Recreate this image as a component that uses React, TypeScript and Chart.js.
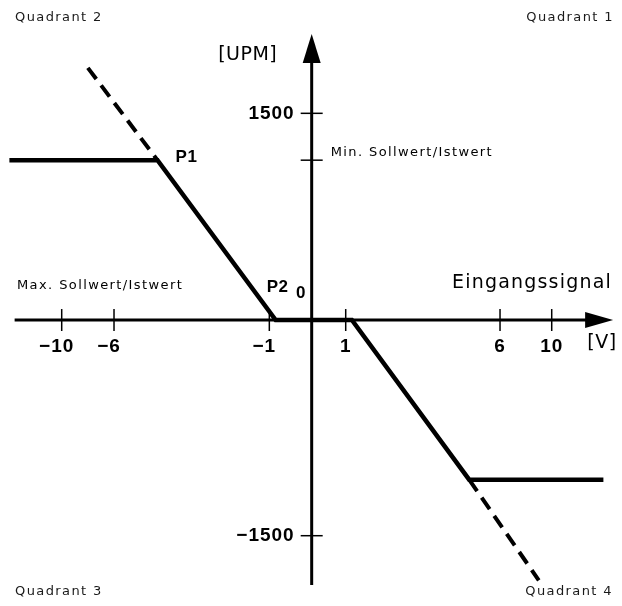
import React, { useEffect, useRef } from 'react';
import { Chart, LinearScale, registerables } from 'chart.js';

// ---- data ----
const solidX = [-14, -4.6, -0.85, 1.2, 5, 14];
const solidY = [1160, 1160, 0, 0, -1110, -1110];
const dashUpperX = [-8, -4.6];
const dashUpperY = [1830, 1160];
const dashLowerX = [5, 9];
const dashLowerY = [-1110, -1810];

const xTicks = [-10, -6, -1, 1, 6, 10];
const xTickLabels = ['−10', '−6', '−1', '1', '6', '10'];
const yTicks = [1500, 1160, -1500];
const yTickLabels = ['1500', '', '−1500'];

const xAxisRange = [-13.6, 14.75];
const yAxisRange = [-1843, 2075];

const quadrantLabels = ['Quadrant 1', 'Quadrant 2', 'Quadrant 3', 'Quadrant 4'];
const pointLabels = ['P1', 'P2'];

// ---- schematic (piecewise linear) axis layout: value -> fraction of the scale extent ----
const X_KNOTS: [number, number][] = [
  [-10, 0.0992], [-6, 0.1833], [-1, 0.433], [0, 0.5011], [1, 0.5558], [6, 0.8039], [10, 0.887],
];
const Y_KNOTS: [number, number][] = [
  [-1500, 0.884], [0, 0.5281], [1500, 0.187],
];

function interp(knots: [number, number][], v: number, a: 0 | 1, b: 0 | 1) {
  const n = knots.length;
  const asc = knots[n - 1][a] > knots[0][a];
  let i = 0;
  const before = (p: number, q: number) => (asc ? p <= q : p >= q);
  if (before(v, knots[0][a])) i = 0;
  else if (!before(v, knots[n - 1][a])) i = n - 2;
  else {
    while (i < n - 2 && !before(v, knots[i + 1][a])) i++;
  }
  const p0 = knots[i], p1 = knots[i + 1];
  return p0[b] + ((v - p0[a]) * (p1[b] - p0[b])) / (p1[a] - p0[a]);
}

class SchematicScale extends LinearScale {
  static id = 'schematic';
  getPixelForValue(value: number) {
    const self: any = this;
    const knots = self.isHorizontal() ? X_KNOTS : Y_KNOTS;
    const f = interp(knots, value, 0, 1);
    return self.isHorizontal() ? self.left + f * self.width : self.top + f * self.height;
  }
  getValueForPixel(pixel: number) {
    const self: any = this;
    const knots = self.isHorizontal() ? X_KNOTS : Y_KNOTS;
    const f = self.isHorizontal() ? (pixel - self.left) / self.width : (pixel - self.top) / self.height;
    return interp(knots, f, 1, 0);
  }
}

Chart.register(...registerables, SchematicScale as any);

const FONT = '"DejaVu Sans", Verdana, sans-serif';
const NUM_FONT = '"Liberation Sans", Arial, sans-serif';
const INK = '#000';

function drawText(
  ctx: CanvasRenderingContext2D,
  text: string,
  x: number,
  y: number,
  font: string,
  align: CanvasTextAlign,
  spacing = 0,
  color = INK,
) {
  ctx.save();
  ctx.font = font;
  ctx.fillStyle = color;
  ctx.textAlign = align;
  ctx.textBaseline = 'middle';
  (ctx as any).letterSpacing = `${spacing}px`;
  ctx.fillText(text, x, y);
  ctx.restore();
}

const diagramPlugin = {
  id: 'diagram',
  beforeDatasetsDraw(chart: any) {
    const ctx: CanvasRenderingContext2D = chart.ctx;
    const xs = chart.scales.x;
    const ys = chart.scales.y;
    const x0 = xs.getPixelForValue(0);
    const y0 = ys.getPixelForValue(0);
    ctx.save();
    ctx.strokeStyle = INK;
    ctx.fillStyle = INK;
    ctx.lineCap = 'butt';

    // x axis with arrow
    const xa = xs.getPixelForValue(xAxisRange[0]);
    const xb = xs.getPixelForValue(xAxisRange[1]);
    ctx.lineWidth = 3;
    ctx.beginPath();
    ctx.moveTo(xa, y0);
    ctx.lineTo(xb - 20, y0);
    ctx.stroke();
    ctx.beginPath();
    ctx.moveTo(xb, y0);
    ctx.lineTo(xb - 28, y0 - 8);
    ctx.lineTo(xb - 28, y0 + 8);
    ctx.closePath();
    ctx.fill();

    // y axis with arrow
    const ya = ys.getPixelForValue(yAxisRange[0]);
    const yb = ys.getPixelForValue(yAxisRange[1]);
    ctx.beginPath();
    ctx.moveTo(x0, ya);
    ctx.lineTo(x0, yb + 20);
    ctx.stroke();
    ctx.beginPath();
    ctx.moveTo(x0, yb);
    ctx.lineTo(x0 - 9, yb + 29);
    ctx.lineTo(x0 + 9, yb + 29);
    ctx.closePath();
    ctx.fill();

    // ticks
    ctx.lineWidth = 1.5;
    xTicks.forEach((v) => {
      const px = xs.getPixelForValue(v);
      ctx.beginPath();
      ctx.moveTo(px, y0 - 11);
      ctx.lineTo(px, y0 + 11);
      ctx.stroke();
    });
    yTicks.forEach((v) => {
      const py = ys.getPixelForValue(v);
      ctx.beginPath();
      ctx.moveTo(x0 - 11, py);
      ctx.lineTo(x0 + 11, py);
      ctx.stroke();
    });
    ctx.restore();
  },
  afterDraw(chart: any) {
    const ctx: CanvasRenderingContext2D = chart.ctx;
    const xs = chart.scales.x;
    const ys = chart.scales.y;
    const x0 = xs.getPixelForValue(0);
    const y0 = ys.getPixelForValue(0);
    const W = chart.width;
    const H = chart.height;
    const numFont = `bold 19px ${NUM_FONT}`;
    const small = `13px ${FONT}`;

    // tick labels (negative labels hang their minus sign to the left)
    xTicks.forEach((v, i) => {
      const label = xTickLabels[i];
      const shift = label.startsWith('−') ? -5 : 0;
      drawText(ctx, label, xs.getPixelForValue(v) + shift, y0 + 27, numFont, 'center', 1);
    });
    yTicks.forEach((v, i) => {
      if (yTickLabels[i]) drawText(ctx, yTickLabels[i], x0 - 17, ys.getPixelForValue(v), numFont, 'right', 1);
    });

    // axis titles
    drawText(ctx, '[UPM]', x0 - 64, 55, `19px ${FONT}`, 'center', 0.5);
    drawText(ctx, 'Eingangssignal', W - 10, y0 - 37, `19px ${FONT}`, 'right', 1.2);
    drawText(ctx, '[V]', W - 20, y0 + 23, `19px ${FONT}`, 'center', 0.5);
    drawText(ctx, '0', x0 - 11, y0 - 27, `bold 17px ${NUM_FONT}`, 'center');

    // reference annotations
    drawText(ctx, 'Min. Sollwert/Istwert', x0 + 19, ys.getPixelForValue(yTicks[1]) - 8, small, 'left', 1.4);
    drawText(ctx, 'Max. Sollwert/Istwert', 17, y0 - 34, small, 'left', 1.4);

    // point labels
    drawText(ctx, pointLabels[0], xs.getPixelForValue(solidX[1]) + 29, ys.getPixelForValue(solidY[1]) - 3, `bold 17px ${NUM_FONT}`, 'center', 0.5);
    drawText(ctx, pointLabels[1], xs.getPixelForValue(solidX[2]) + 2, ys.getPixelForValue(solidY[2]) - 33, `bold 17px ${NUM_FONT}`, 'center', 0.5);

    // quadrant labels
    drawText(ctx, quadrantLabels[0], W - 8, 18, small, 'right', 1.4, '#1a1a1a');
    drawText(ctx, quadrantLabels[1], 15, 18, small, 'left', 1.4, '#1a1a1a');
    drawText(ctx, quadrantLabels[2], 15, H - 14, small, 'left', 1.4, '#1a1a1a');
    drawText(ctx, quadrantLabels[3], W - 9, H - 14, small, 'right', 1.4, '#1a1a1a');
  },
};

export default function App() {
  const canvasRef = useRef<HTMLCanvasElement | null>(null);

  useEffect(() => {
    const canvas = canvasRef.current;
    if (!canvas) return;
    const toPoints = (xsArr: number[], ysArr: number[]) => xsArr.map((x, i) => ({ x, y: ysArr[i] }));
    const chart = new Chart(canvas, {
      type: 'line',
      data: {
        datasets: [
          {
            data: toPoints(solidX, solidY),
            borderColor: INK,
            borderWidth: 4.5,
            borderJoinStyle: 'miter',
            borderCapStyle: 'butt',
            pointRadius: 0,
            tension: 0,
            fill: false,
          },
          {
            data: toPoints(dashUpperX, dashUpperY),
            borderColor: INK,
            borderWidth: 4,
            borderDash: [14, 8],
            borderCapStyle: 'butt',
            pointRadius: 0,
            tension: 0,
            fill: false,
          },
          {
            data: toPoints(dashLowerX, dashLowerY),
            borderColor: INK,
            borderWidth: 4,
            borderDash: [14, 8],
            borderCapStyle: 'butt',
            pointRadius: 0,
            tension: 0,
            fill: false,
          },
        ],
      } as any,
      options: {
        animation: false,
        responsive: false,
        maintainAspectRatio: false,
        layout: { padding: 0 },
        events: [],
        plugins: { legend: { display: false }, tooltip: { enabled: false }, title: { display: false } },
        scales: {
          x: { type: 'schematic', min: -15, max: 15, display: false },
          y: { type: 'schematic', min: -2100, max: 2100, display: false },
        } as any,
      },
      plugins: [diagramPlugin as any],
    });
    return () => chart.destroy();
  }, []);

  return (
    <div style={{ position: 'absolute', left: 0, top: 0, width: 622, height: 606, background: '#fff' }}>
      <canvas ref={canvasRef} width={622} height={606} style={{ display: 'block', width: 622, height: 606 }} />
    </div>
  );
}
